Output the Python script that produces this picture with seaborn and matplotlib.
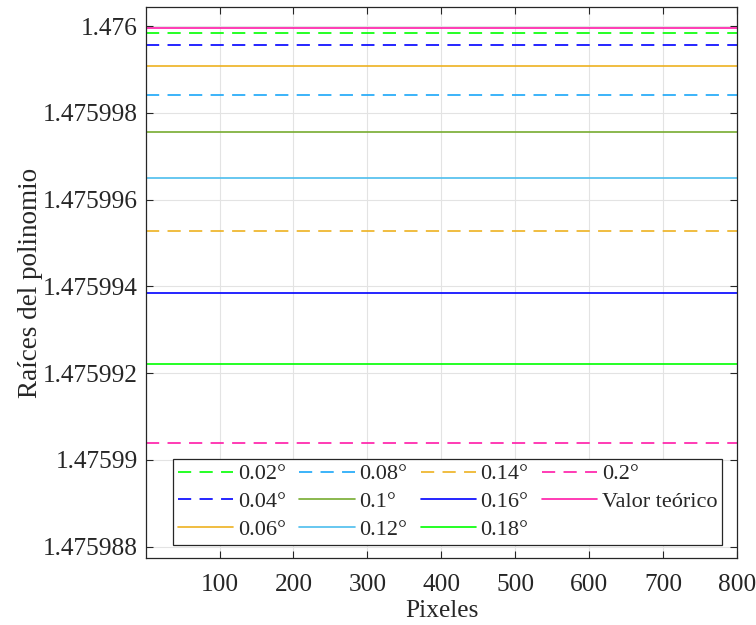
import numpy as np
import pandas as pd
import matplotlib
matplotlib.use("Agg")
import matplotlib.pyplot as plt
import seaborn as sns

# ---- data ----
pixels = np.arange(1, 801)
labels = ["0.02°", "0.04°", "0.06°", "0.08°", "0.1°", "0.12°",
          "0.14°", "0.16°", "0.18°", "0.2°", "Valor teórico"]
roots = [1.47599985, 1.47599957, 1.47599909, 1.47599841, 1.47599757,
         1.47599651, 1.47599527, 1.47599384, 1.47599222, 1.47599040,
         1.47599995]
colors = ["#00FF00", "#0000FF", "#EDB120", "#1AA7F8", "#77AC30",
          "#4DBEEE", "#EDB120", "#0000FF", "#00FF00", "#FF1AA8", "#FF1AA8"]
dashed = [True, True, False, True, False, False, True, False, False, True, False]

yticks = [1.475988, 1.475990, 1.475992, 1.475994, 1.475996, 1.475998, 1.476000]
ytick_labels = ["1.475988", "1.47599", "1.475992", "1.475994", "1.475996",
                "1.475998", "1.476"]
xticks = [100, 200, 300, 400, 500, 600, 700, 800]

sns.set_theme(style="white")
plt.rcParams["font.family"] = ["Liberation Serif", "DejaVu Serif"]
plt.rcParams["lines.scale_dashes"] = False

fig = plt.figure(figsize=(7.56, 6.25), dpi=100)
ax = fig.add_axes([0.1935, 0.1067, 0.9753 - 0.1935, 0.9893 - 0.1067])

for lab, val, col, d in zip(labels, roots, colors, dashed):
    df = pd.DataFrame({"x": pixels, "y": np.full(len(pixels), val)})
    sns.lineplot(data=df, x="x", y="y", ax=ax, color=col, linewidth=1.2,
                 label=lab, linestyle=(0, (9.5, 6.0)) if d else "-")

ax.set_xlim(1, 800)
ax.set_ylim(1.47598773, 1.47600045)
ax.set_xticks(xticks)
ax.set_xticklabels([str(t) for t in xticks])
ax.set_yticks(yticks)
ax.set_yticklabels(ytick_labels)
ax.grid(True, color="#E3E3E3", linewidth=0.8)
ax.set_axisbelow(True)
ax.tick_params(direction="in", length=5, width=0.8, colors="#262626",
               labelsize=18.3, top=True, right=True, bottom=True, left=True,
               labelcolor="#262626")
ax.tick_params(axis="x", pad=11)
ax.tick_params(axis="y", pad=6)
for s in ax.spines.values():
    s.set_visible(True)
    s.set_color("#262626")
    s.set_linewidth(0.9)

ax.set_xlabel("Pixeles", fontsize=18.3, color="#262626", labelpad=3)
ax.set_ylabel("Raíces del polinomio", fontsize=19.5, color="#262626", labelpad=0)

leg = ax.legend(loc="lower right", bbox_to_anchor=(0.9746, 0.0247),
                borderaxespad=0, ncol=4, fontsize=16, frameon=True,
                fancybox=False, edgecolor="#262626", handlelength=2.5,
                handletextpad=0.2, columnspacing=0.6, labelspacing=0.32,
                borderpad=0.22)
leg.get_frame().set_linewidth(0.9)
leg.get_frame().set_alpha(1)

fig.savefig("out.png", dpi=100)
